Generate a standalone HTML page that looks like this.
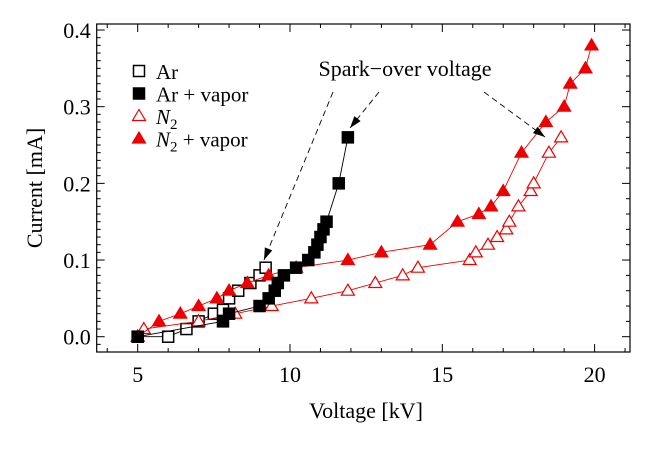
<!DOCTYPE html>
<html><head><meta charset="utf-8"><style>
body{margin:0;background:#fff}
svg, svg text, svg tspan{font-family:"Liberation Serif","DejaVu Serif",serif;fill:#000}
</style></head><body>
<svg id="chart" width="662" height="444" viewBox="0 0 662 444" xmlns="http://www.w3.org/2000/svg" font-family="Liberation Serif, serif">
<g id="plot"></g>
</svg>
<script>
const xTicks=[5,10,15,20];
const yTicks=[0.0,0.1,0.2,0.3,0.4];
const arX=[5,6,6.6,7,7.5,7.8,8.0,8.3,8.7,9.0,9.2];
const arY=[0,0,0.01,0.02,0.03,0.035,0.05,0.06,0.07,0.08,0.09];
const arvX=[5,7.8,8.0,9.0,9.3,9.5,9.6,9.8,10.2,10.6,10.8,10.9,11.0,11.1,11.2,11.6,11.9];
const arvY=[0,0.02,0.03,0.04,0.05,0.06,0.07,0.08,0.09,0.1,0.11,0.12,0.13,0.14,0.15,0.2,0.26];
const n2X=[5,5.2,7,8.2,9.4,10.7,11.9,12.8,13.7,14.2,15.9,16.1,16.5,16.8,17.1,17.2,17.5,17.9,18.0,18.5,18.9];
const n2Y=[0,0.01,0.02,0.03,0.04,0.05,0.06,0.07,0.08,0.09,0.1,0.11,0.12,0.13,0.14,0.15,0.17,0.19,0.2,0.24,0.26];
const n2vX=[5,5.7,6.4,7,7.6,8,8.6,9.3,10.2,11.9,13.0,14.6,15.5,16.2,16.6,17,17.6,18.4,19,19.2,19.7,19.9];
const n2vY=[0,0.02,0.03,0.04,0.05,0.06,0.07,0.08,0.09,0.1,0.11,0.12,0.15,0.16,0.17,0.19,0.24,0.28,0.3,0.33,0.35,0.38];

const L=96.7,R=630,T=24,B=352;
const sx=v=>137.7+(v-5)*30.46;
const sy=v=>336.7-v*766.7;
const g=document.getElementById('plot');
const NS='http://www.w3.org/2000/svg';
const FF='Liberation Serif, DejaVu Serif, serif';
function mk(tag,at,parent){const e=document.createElementNS(NS,tag);for(const k in at)e.setAttribute(k,at[k]);if(tag==='text')e.setAttribute('font-family',FF);(parent||g).appendChild(e);return e;}

const fr=mk('rect',{x:L,y:T,width:R-L,height:B-T,fill:'none',stroke:'#000','stroke-width':1.2});


for(let v=4;v<=21;v++){
  const len=(v%5===0)?8:4;
  mk('line',{x1:sx(v),x2:sx(v),y1:B,y2:B-len,stroke:'#000'});
  mk('line',{x1:sx(v),x2:sx(v),y1:T,y2:T+len,stroke:'#000'});
}
xTicks.forEach(v=>{const t=mk('text',{x:sx(v),y:B+30,'text-anchor':'middle','font-size':22});t.textContent=v;

});
for(let i=-1;i<=40;i++){
  const v=i*0.01;const y=sy(v);if(y>B||y<T)continue;
  const len=(i%10===0)?8:4;
  mk('line',{x1:L,x2:L+len,y1:y,y2:y,stroke:'#000'});
  if(i%2===0||i%10===0) mk('line',{x1:R,x2:R-len,y1:y,y2:y,stroke:'#000'});
}
yTicks.forEach(v=>{const t=mk('text',{x:L-6,y:sy(v)+8,'text-anchor':'end','font-size':22});t.textContent=v.toFixed(1);

});
const xt=mk('text',{x:366,y:418,'text-anchor':'middle','font-size':22});xt.textContent='Voltage [kV]';


const yt=mk('text',{x:42,y:188,'text-anchor':'middle','font-size':22,transform:'rotate(-90 42 188)'});yt.textContent='Current [mA]';



function marker(p,x,y,type,color){
  if(type==='sq'||type==='sqf'){
    return mk('rect',{x:x-5.5,y:y-5.5,width:11,height:11,fill:type==='sqf'?color:'#fff',stroke:color,'stroke-width':1.5},p);
  } else {
    return mk('polygon',{points:`${x},${y-6.5} ${x-6.5},${y+4.5} ${x+6.5},${y+4.5}`,fill:type==='trf'?color:'#fff',stroke:color,'stroke-width':1.2},p);
  }
}
function series(name,xs,ys,type,color){
  const s=mk('g',{});
  
  
  mk('polyline',{points:xs.map((x,i)=>sx(x)+','+sy(ys[i])).join(' '),fill:'none',stroke:color,'stroke-width':0.9},s);
  xs.forEach((x,i)=>{const m=marker(s,sx(x),sy(ys[i]),type,color);
    
    });
}
series('series-ar',arX,arY,'sq','#000');
series('series-n2',n2X,n2Y,'tr','#e00');
series('series-n2-vapor',n2vX,n2vY,'trf','#e00');
series('series-ar-vapor',arvX,arvY,'sqf','#000');

const ann=mk('g',{});


const at=mk('text',{x:405,y:76,'text-anchor':'middle','font-size':22},ann);at.textContent='Spark\u2212over voltage';
function arrow(x1,y1,x2,y2){
  mk('line',{x1,y1,x2,y2,stroke:'#000','stroke-dasharray':'6,4','stroke-width':0.9},ann);
  const a=Math.atan2(y2-y1,x2-x1),l=12,w=4;
  const bx=x2-l*Math.cos(a),by=y2-l*Math.sin(a);
  mk('polygon',{points:`${x2},${y2} ${bx+w*Math.sin(a)},${by-w*Math.cos(a)} ${bx-w*Math.sin(a)},${by+w*Math.cos(a)}`,fill:'#000'},ann);
}
arrow(333,92,264,260);
arrow(379,92,350,128);
arrow(484,92,545,137);

const lg=mk('g',{});


const items=[['sq','#000','Ar'],['sqf','#000','Ar + vapor'],['tr','#e00','N2'],['trf','#e00','N2 + vapor']];
items.forEach((it,i)=>{
  const y=71+i*22.5;
  marker(lg,139,y,it[0],it[1]);
  const t=mk('text',{x:156,y:y+8,'font-size':21},lg);
  
  
  if(it[2].startsWith('N2')){
    t.innerHTML='<tspan font-style="italic">N</tspan><tspan font-size="15" dy="5">2</tspan>'+(it[2].length>2?'<tspan dy="-5"> + vapor</tspan>':'');
  } else t.textContent=it[2];
});
</script>
</body></html>
